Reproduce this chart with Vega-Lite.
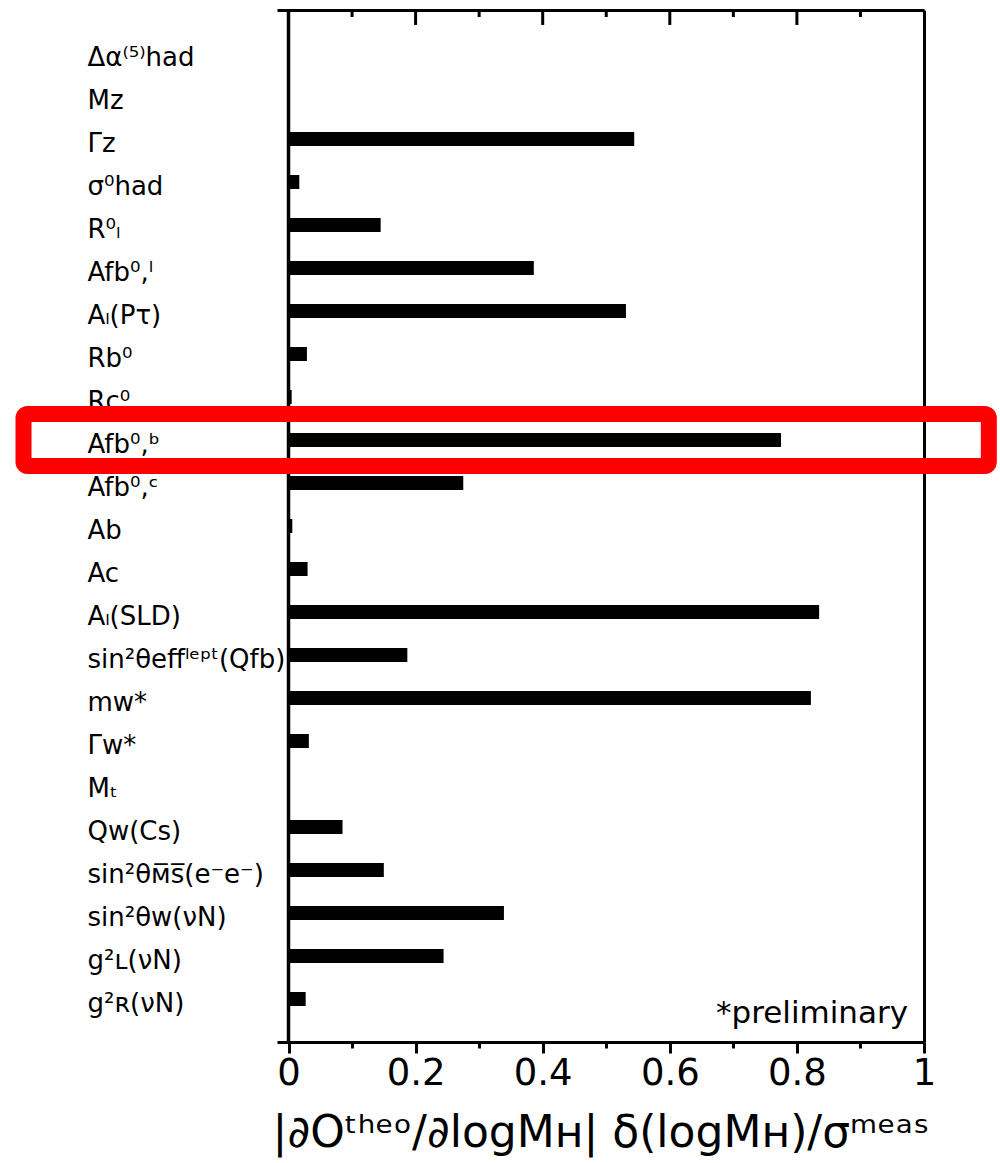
{
  "$schema": "https://vega.github.io/schema/vega-lite/v6.json",
  "width": 647,
  "height": 1032,
  "autosize": "none",
  "padding": {"left": 277, "top": 10, "right": 76, "bottom": 121},
  "background": "white",
  "config": {
    "view": {"stroke": null},
    "font": "DejaVu Sans",
    "axis": {"labelColor": "black", "titleColor": "black", "domainColor": "black", "tickColor": "black"}
  },
  "datasets": {
    "rows": [
      {"label": "Δα⁽⁵⁾had", "value": 0},
      {"label": "Mᴢ", "value": 0},
      {"label": "Γᴢ", "value": 0.544},
      {"label": "σ⁰had", "value": 0.017},
      {"label": "R⁰ₗ", "value": 0.145},
      {"label": "Afb⁰,ˡ", "value": 0.386},
      {"label": "Aₗ(Pτ)", "value": 0.531},
      {"label": "Rb⁰", "value": 0.029},
      {"label": "Rc⁰", "value": 0.005},
      {"label": "Afb⁰,ᵇ", "value": 0.775},
      {"label": "Afb⁰,ᶜ", "value": 0.275},
      {"label": "Ab", "value": 0.006},
      {"label": "Ac", "value": 0.03},
      {"label": "Aₗ(SLD)", "value": 0.835},
      {"label": "sin²θeffˡᵉᵖᵗ(Qfb)", "value": 0.187},
      {"label": "mᴡ*", "value": 0.822},
      {"label": "Γᴡ*", "value": 0.032},
      {"label": "Mₜ", "value": 0},
      {"label": "Qᴡ(Cs)", "value": 0.085},
      {"label": "sin²θᴍ̅s̅(e⁻e⁻)", "value": 0.15},
      {"label": "sin²θᴡ(νN)", "value": 0.339},
      {"label": "g²ʟ(νN)", "value": 0.244},
      {"label": "g²ʀ(νN)", "value": 0.027}
    ],
    "majorTicks": [{"tick": 0.2}, {"tick": 0.4}, {"tick": 0.6}, {"tick": 0.8}],
    "minorTicks": [{"tick": 0.1}, {"tick": 0.3}, {"tick": 0.5}, {"tick": 0.7}, {"tick": 0.9}]
  },
  "resolve": {
    "scale": {"y": "independent"},
    "axis": {"x": "independent", "y": "independent"}
  },
  "layer": [
    {
      "data": {"name": "rows"},
      "resolve": {"axis": {"x": "independent", "y": "independent"}},
      "layer": [
        {
          "mark": {"type": "bar", "color": "black", "size": 14},
          "encoding": {
            "y": {
              "field": "label",
              "type": "nominal",
              "sort": null,
              "scale": {"paddingInner": 0, "paddingOuter": 0.5},
              "axis": {
                "orient": "left",
                "title": null,
                "domain": false,
                "ticks": false,
                "tickSize": 0,
                "labelAlign": "left",
                "labelPadding": 190,
                "labelOffset": 5,
                "labelFontSize": 26,
                "labelLimit": 400
              }
            },
            "x": {
              "field": "value",
              "type": "quantitative",
              "scale": {"domain": [-0.0181, 1], "nice": false, "zero": false},
              "axis": {
                "orient": "bottom",
                "values": [0, 0.1, 0.2, 0.3, 0.4, 0.5, 0.6, 0.7, 0.8, 0.9, 1],
                "format": "~g",
                "labelExpr": "round(datum.value * 10) % 2 == 0 ? datum.label : ''",
                "labelFlush": false,
                "labelOverlap": false,
                "labelFontSize": 37,
                "labelPadding": 2,
                "grid": false,
                "domainWidth": 3,
                "tickWidth": 3,
                "tickSize": {"condition": {"test": "round(datum.value * 10) % 2 == 0", "value": 11}, "value": 6},
                "title": "|∂Oᵗʰᵉᵒ/∂logMʜ| δ(logMʜ)/σᵐᵉᵃˢ",
                "titleFontSize": 44,
                "titleFontWeight": "normal",
                "titlePadding": 20
              }
            }
          }
        },
        {
          "data": {"values": [{"zero": 0}]},
          "mark": {"type": "rule", "strokeWidth": 3.5, "color": "black"},
          "encoding": {
            "x": {
              "field": "zero",
              "type": "quantitative",
              "axis": {
                "orient": "top",
                "labels": false,
                "ticks": false,
                "grid": false,
                "title": null,
                "domain": true,
                "domainWidth": 3
              }
            }
          }
        },
        {
          "data": {"values": [{"note": "*preliminary", "row": "g²ʀ(νN)", "at": 0.975}]},
          "mark": {"type": "text", "fontSize": 31, "align": "right", "baseline": "alphabetic", "dy": 2, "color": "black"},
          "encoding": {
            "text": {"field": "note"},
            "x": {"field": "at", "type": "quantitative", "axis": null},
            "y": {"field": "row", "type": "nominal", "bandPosition": 1, "sort": null, "axis": null}
          }
        },
        {
          "transform": [{"filter": "datum.label == 'Afb⁰,ᵇ'"}],
          "mark": {
            "type": "bar",
            "height": {"band": 1.21},
            "fill": null,
            "fillOpacity": 0,
            "stroke": "#ff0000",
            "strokeWidth": 16,
            "cornerRadius": 4,
            "clip": false
          },
          "encoding": {
            "y": {
              "field": "label",
              "type": "nominal",
              "sort": null,
              "axis": {"orient": "right", "labels": false, "ticks": false, "title": null, "domain": true, "domainWidth": 3}
            },
            "x": {"datum": -0.417, "type": "quantitative", "axis": null},
            "x2": {"datum": 1.102}
          }
        }
      ]
    },
    {
      "data": {"name": "majorTicks"},
      "mark": {"type": "rule", "strokeWidth": 3, "color": "black"},
      "encoding": {
        "x": {"field": "tick", "type": "quantitative", "axis": null},
        "y": {"datum": 1, "type": "quantitative", "scale": {"domain": [0, 1], "nice": false}, "axis": null},
        "y2": {"datum": 0.9855}
      }
    },
    {
      "data": {"name": "minorTicks"},
      "mark": {"type": "rule", "strokeWidth": 3, "color": "black"},
      "encoding": {
        "x": {"field": "tick", "type": "quantitative", "axis": null},
        "y": {"datum": 1, "type": "quantitative", "scale": {"domain": [0, 1], "nice": false}, "axis": null},
        "y2": {"datum": 0.9932}
      }
    }
  ]
}
